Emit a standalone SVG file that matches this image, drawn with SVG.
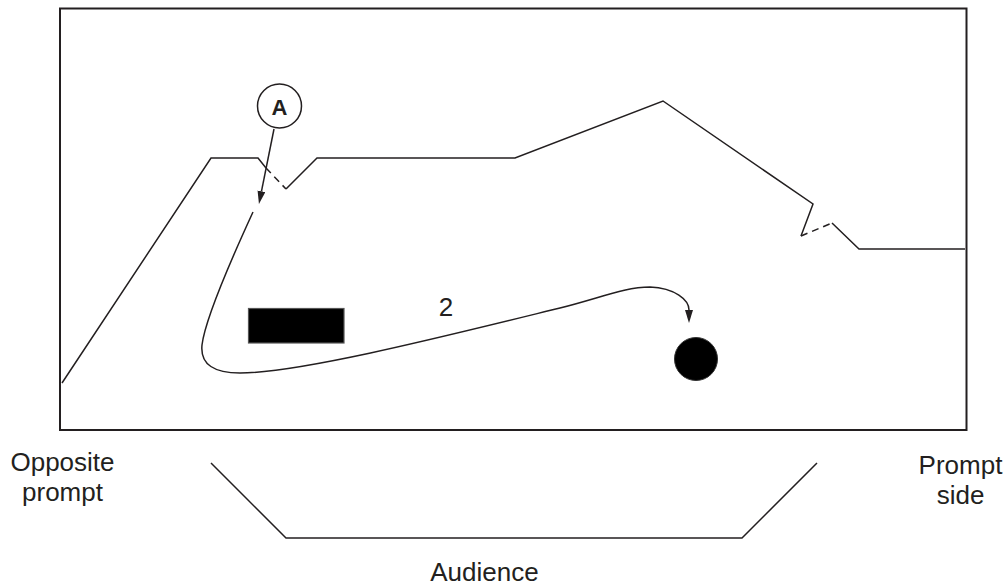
<svg xmlns="http://www.w3.org/2000/svg" width="1008" height="588" viewBox="0 0 1008 588">
  <defs>
    <style>
      .ln { fill: none; stroke: #231f20; stroke-width: 1.5; stroke-linejoin: miter; }
      .dash { fill: none; stroke: #231f20; stroke-width: 1.5; stroke-dasharray: 7 5; }
      .lbl { font-family: "Liberation Sans", Arial, sans-serif; font-size: 26px; fill: #231f20; text-anchor: middle; }
    </style>
    <marker id="arr" markerUnits="userSpaceOnUse" markerWidth="14" markerHeight="10" refX="0" refY="4" orient="auto">
      <path d="M0,0 L13,4 L0,8 z" fill="#231f20"/>
    </marker>
  </defs>
  <rect width="1008" height="588" fill="#ffffff"/>

  <g id="stage">
    <rect x="60" y="8.5" width="906.5" height="421.5" fill="none" stroke="#231f20" stroke-width="2"/>
    <polyline class="ln" points="62,383 211,158 258,158 266,168"/>
    <line class="dash" x1="266" y1="168" x2="286" y2="189"/>
    <polyline class="ln" points="286,189 317,158 515,158 663,101 813,204 801,236"/>
    <line class="dash" x1="801" y1="236" x2="832" y2="223"/>
    <polyline class="ln" points="832,223 859,249 965,249"/>
  </g>

  <g id="block">
    <rect x="248.5" y="308.5" width="95.5" height="34.5" fill="#000" stroke="#555" stroke-width="1.2"/>
  </g>

  <g id="actor">
    <circle cx="696" cy="359" r="21.5" fill="#000" stroke="#333" stroke-width="1"/>
  </g>

  <g id="marker-A">
    <circle cx="279.5" cy="106" r="22" fill="#fff" stroke="#231f20" stroke-width="1.5"/>
    <text x="279.5" y="114.5" font-family="Liberation Sans, Arial, sans-serif" font-size="22" font-weight="bold" text-anchor="middle" fill="#231f20">A</text>
  </g>

  <g id="audience">
    <polyline class="ln" points="211,463 286,538 742,538 817,463"/>
  </g>

  <g id="connectors">
    <line class="ln" x1="274" y1="129" x2="261.5" y2="191.2" marker-end="url(#arr)"/>
    <path class="ln" d="M253,212 C230,262 205,320 202,345 C200,365 215,373 240,373 C300,373 450,335 560,308 C600,298 625,287 650,287 C675,288 689,300 689,310" marker-end="url(#arr)"/>
  </g>

  <g id="labels">
    <text class="lbl" x="446" y="316">2</text>
    <text class="lbl" x="62.5" y="470.5">Opposite</text>
    <text class="lbl" x="62.5" y="501">prompt</text>
    <text class="lbl" x="960.5" y="473.5">Prompt</text>
    <text class="lbl" x="960.5" y="504">side</text>
    <text class="lbl" x="484.5" y="581">Audience</text>
  </g>
</svg>
